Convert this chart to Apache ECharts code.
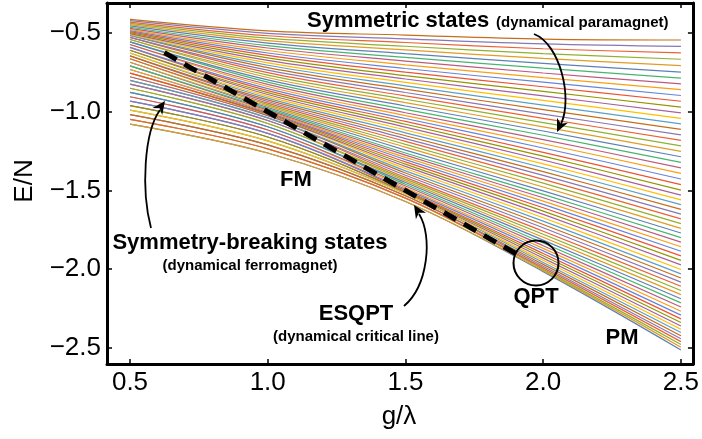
<!DOCTYPE html>
<html><head><meta charset="utf-8">
<script src="https://cdn.jsdelivr.net/npm/echarts/dist/echarts.min.js"></script>
<style>html,body{margin:0;padding:0;background:#fff}#c{width:702px;height:439px}</style>
</head><body><div id="c"></div>
<script>
// coupling values g/λ at which each level is sampled
const gValues = [0.5, 1.0, 1.5, 2.0, 2.5];
// E/N of each level (index 0 = lowest) at the sampled g/λ values
const E_g05 = [-1.0781,-1.0781,-1.0483,-1.0483,-1.0186,-1.0186,-0.9891,-0.9891,-0.961,-0.961,-0.9329,-0.9329,-0.9049,-0.9049,-0.8774,-0.8774,-0.8509,-0.8509,-0.8246,-0.8246,-0.8011,-0.8011,-0.778,-0.778,-0.7547,-0.7547,-0.7316,-0.7316,-0.7086,-0.7086,-0.6854,-0.6854,-0.6632,-0.6632,-0.6452,-0.6452,-0.6272,-0.6272,-0.6093,-0.6093,-0.5912,-0.5912,-0.5732,-0.5732,-0.5563,-0.5563,-0.5415,-0.5415,-0.5277,-0.5277,-0.5155,-0.5155,-0.5087,-0.5036,-0.4979,-0.4918,-0.485,-0.478,-0.4708,-0.4633,-0.4552,-0.4473,-0.439,-0.4304,-0.4219,-0.413];
const E_g10 = [-1.262,-1.262,-1.2353,-1.2353,-1.2101,-1.2101,-1.1851,-1.1851,-1.16,-1.16,-1.137,-1.137,-1.1162,-1.1162,-1.0953,-1.0953,-1.0743,-1.0743,-1.0555,-1.0555,-1.0391,-1.0391,-1.0245,-1.0245,-1.016,-1.0106,-1.0042,-0.9974,-0.9896,-0.9819,-0.9731,-0.9643,-0.955,-0.9452,-0.9352,-0.9244,-0.9135,-0.9021,-0.8905,-0.8783,-0.8661,-0.853,-0.8398,-0.8263,-0.8119,-0.7974,-0.7824,-0.7669,-0.7518,-0.7361,-0.7203,-0.7048,-0.6891,-0.6734,-0.658,-0.6423,-0.6268,-0.6111,-0.5954,-0.5799,-0.5642,-0.5485,-0.533,-0.5173,-0.5018,-0.486];
const E_g15 = [-1.5701,-1.5701,-1.5486,-1.5486,-1.5338,-1.5338,-1.5207,-1.5207,-1.5125,-1.5074,-1.4998,-1.4915,-1.4821,-1.4714,-1.4604,-1.4495,-1.4387,-1.4277,-1.4169,-1.4033,-1.3891,-1.375,-1.3607,-1.3465,-1.3325,-1.3182,-1.3039,-1.2899,-1.2756,-1.2618,-1.2432,-1.2249,-1.2068,-1.1885,-1.1703,-1.1522,-1.1339,-1.1156,-1.0976,-1.0793,-1.0613,-1.043,-1.0247,-1.0065,-0.9849,-0.9635,-0.9422,-0.9207,-0.8995,-0.8779,-0.8564,-0.8352,-0.8137,-0.7921,-0.7709,-0.7489,-0.7255,-0.7019,-0.6782,-0.6549,-0.6312,-0.6075,-0.5841,-0.5604,-0.537,-0.5134];
const E_g20 = [-2.015,-2.0089,-2.0008,-1.9914,-1.9808,-1.9692,-1.9566,-1.9434,-1.9294,-1.9148,-1.8995,-1.8836,-1.8672,-1.8504,-1.8329,-1.8149,-1.7966,-1.7777,-1.7584,-1.7368,-1.7155,-1.6946,-1.6732,-1.6519,-1.6309,-1.6096,-1.5883,-1.5672,-1.546,-1.525,-1.5025,-1.4778,-1.4536,-1.4289,-1.4043,-1.38,-1.3553,-1.3308,-1.3064,-1.2818,-1.2574,-1.2303,-1.2032,-1.1765,-1.1494,-1.1223,-1.0956,-1.0685,-1.0418,-1.0147,-0.9863,-0.9575,-0.9282,-0.8991,-0.8703,-0.8412,-0.8123,-0.7832,-0.754,-0.7235,-0.6925,-0.6615,-0.631,-0.5999,-0.5694,-0.5383];
const E_g25 = [-2.5125,-2.4953,-2.4776,-2.4595,-2.4408,-2.4217,-2.4019,-2.3814,-2.3603,-2.3382,-2.3153,-2.2914,-2.2662,-2.24,-2.2135,-2.1871,-2.161,-2.1346,-2.1082,-2.082,-2.0556,-2.0295,-2.0017,-1.9726,-1.9439,-1.9148,-1.8857,-1.857,-1.8279,-1.7992,-1.7701,-1.7401,-1.7102,-1.68,-1.6497,-1.6199,-1.5896,-1.5594,-1.5295,-1.4971,-1.4622,-1.4269,-1.3915,-1.3566,-1.3213,-1.2859,-1.2511,-1.2161,-1.1816,-1.1466,-1.1116,-1.0771,-1.042,-1.0074,-0.9704,-0.9333,-0.8967,-0.8597,-0.8226,-0.7859,-0.7481,-0.7071,-0.6667,-0.6257,-0.5853,-0.5445];
// ESQPT critical line E/N = -g/λ, drawn between these g/λ values
const esqptG = [0.625, 1.9];
const esqptE = [-0.625, -1.9];

const palette = ['#5e81b5','#e19c24','#8fb032','#eb6235','#8778b3','#c56e1a','#5d9ec7','#ffbf00','#a5609d','#929600','#e95536','#6685d9','#f89f13','#bc5b80','#47b66d'];
const columns = [E_g05, E_g10, E_g15, E_g20, E_g25];
const FONT = '"Liberation Sans", Arial, Helvetica, sans-serif';

const series = [];
for (let j = 0; j < E_g05.length; j++) {
  series.push({
    type: 'line', silent: true, symbol: 'none', smooth: 0.35, z: 2,
    data: gValues.map((g, i) => [g, columns[i][j]]),
    lineStyle: { width: 1.2, color: palette[j % palette.length] }
  });
}
series.push({
  type: 'line', silent: true, symbol: 'none', z: 5,
  data: esqptG.map((g, i) => [g, esqptE[i]]),
  lineStyle: { color: '#000', width: 5, type: [14, 9], cap: 'butt' }
});

const fmt = v => v.toFixed(1).replace('-', '\u2212');
const xMin = 0.4165, xMax = 2.5436, yMin = -2.6016, yMax = -0.3095;
const frameLine = { show: true, lineStyle: { color: '#000', width: 3 } };
const tick = { show: true, inside: true, length: 5, lineStyle: { color: '#000', width: 1.5 } };

function arrowHead(tx, ty, dx, dy, len, hw) {
  const n = Math.hypot(dx, dy); dx /= n; dy /= n;
  const bx = tx - dx * len, by = ty - dy * len;
  return [[tx, ty], [bx - dy * hw, by + dx * hw], [tx - dx * len * 0.7, ty - dy * len * 0.7], [bx + dy * hw, by - dx * hw]];
}
function txt(text, x, y, size, align) {
  return { type: 'text', x: x, y: y, z: 20,
    style: { text: text, fill: '#000', font: 'bold ' + size + 'px ' + FONT,
      align: align || 'center', verticalAlign: 'middle', textAlign: align || 'center', textVerticalAlign: 'middle' } };
}
const curve = (x1, y1, c1x, c1y, c2x, c2y, x2, y2) => ({ type: 'bezierCurve', z: 20,
  shape: { x1: x1, y1: y1, cpx1: c1x, cpy1: c1y, cpx2: c2x, cpy2: c2y, x2: x2, y2: y2 },
  style: { stroke: '#000', lineWidth: 1.8, fill: null } });
const head = (pts) => ({ type: 'polygon', z: 20, shape: { points: pts }, style: { fill: '#000' } });

const chart = echarts.init(document.getElementById('c'), null, { renderer: 'canvas' });
chart.setOption({
  animation: false,
  backgroundColor: '#fff',
  grid: { left: 107, right: 9, top: 3, bottom: 75, containLabel: false },
  xAxis: [
    { type: 'value', min: xMin, max: xMax, splitNumber: 5, position: 'bottom',
      axisLine: frameLine, axisTick: tick, splitLine: { show: false },
      axisLabel: { showMinLabel: false, showMaxLabel: false, formatter: fmt, fontSize: 26, color: '#000', margin: 6, fontFamily: FONT } },
    { type: 'value', min: xMin, max: xMax, splitNumber: 5, position: 'top',
      axisLine: frameLine, axisTick: tick, splitLine: { show: false }, axisLabel: { show: false } }
  ],
  yAxis: [
    { type: 'value', min: yMin, max: yMax, splitNumber: 5, position: 'left',
      axisLine: frameLine, axisTick: tick, splitLine: { show: false },
      axisLabel: { showMinLabel: false, showMaxLabel: false, formatter: fmt, fontSize: 26, color: '#000', margin: 6, fontFamily: FONT } },
    { type: 'value', min: yMin, max: yMax, splitNumber: 5, position: 'right',
      axisLine: frameLine, axisTick: tick, splitLine: { show: false }, axisLabel: { show: false } }
  ],
  series: series,
  graphic: [
    { type: 'text', x: 25, y: 181, rotation: Math.PI / 2, z: 20,
      style: { text: 'E/N', fill: '#000', font: '26px ' + FONT, align: 'center', verticalAlign: 'middle', textAlign: 'center', textVerticalAlign: 'middle' } },
    { type: 'text', x: 399, y: 417, z: 20,
      style: { text: 'g/\u03bb', fill: '#000', font: '26px ' + FONT, align: 'center', verticalAlign: 'middle', textAlign: 'center', textVerticalAlign: 'middle' } },
    txt('Symmetric states', 307, 21, 22, 'left'),
    txt('(dynamical paramagnet)', 496, 23, 15, 'left'),
    txt('FM', 296, 180, 22),
    txt('Symmetry-breaking states', 250, 243, 22),
    txt('(dynamical ferromagnet)', 250, 266, 15),
    txt('ESQPT', 356, 314, 22),
    txt('(dynamical critical line)', 356, 337, 15),
    txt('QPT', 536, 297, 22),
    txt('PM', 622, 338, 22),
    { type: 'circle', z: 20, shape: { cx: 536, cy: 263, r: 22.5 }, style: { fill: null, stroke: '#000', lineWidth: 2 } },
    curve(534, 34, 560, 44, 573, 98, 561, 124),
    head(arrowHead(557, 132, -12, 26, 13, 6)),
    curve(151, 228, 141, 190, 144, 132, 160, 110),
    head(arrowHead(165, 101, 16, -22, 13, 6)),
    curve(404, 306, 428, 286, 433, 236, 419, 214),
    head(arrowHead(414, 205, -14, -22, 13, 6))
  ]
});
</script></body></html>
